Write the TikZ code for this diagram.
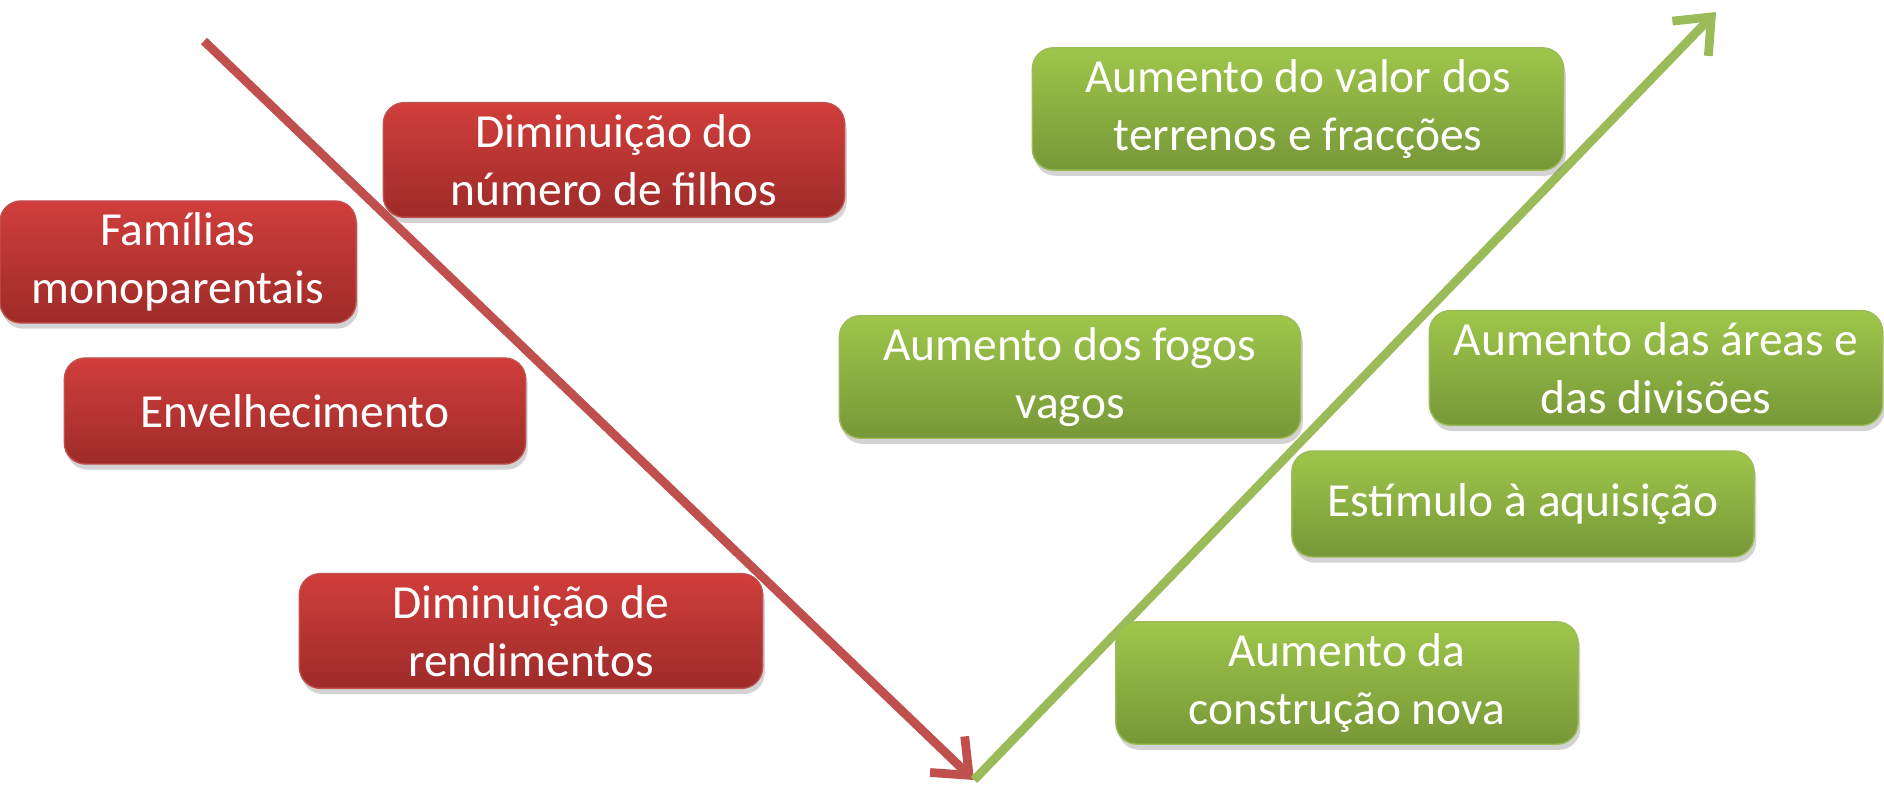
\documentclass[tikz,border=0pt]{standalone}
\usepackage{fontspec}
\setmainfont{Carlito}
\usetikzlibrary{arrows.meta,shadows}
\definecolor{boxred}{RGB}{208,62,59}
\definecolor{boxreddark}{RGB}{158,43,41}
\definecolor{boxgreen}{RGB}{159,198,75}
\definecolor{boxgreendark}{RGB}{119,151,55}
\definecolor{arrowred}{RGB}{192,80,77}
\definecolor{arrowgreen}{RGB}{155,187,89}
\begin{document}
\begin{tikzpicture}
        [x=0.01cm, y=-0.01cm,
        every node/.style={rounded corners=6pt, minimum height=1.06cm, align=center,
          text=white, font=\fontsize{13.5}{16.5}\selectfont,
          drop shadow={shadow xshift=0.6pt, shadow yshift=-1.6pt, opacity=0.35}},
        redbox/.style={draw=arrowred, thin, top color=boxred, bottom color=boxreddark},
        greenbox/.style={draw=arrowgreen, thin, top color=boxgreen, bottom color=boxgreendark},
        trend/.style={line width=2.5pt, -{Straight Barb[length=3mm, width=5mm, line width=2.5pt]}},
        ]
        \useasboundingbox (0,0) rectangle (1884,785);
        \coordinate (redtop) at (204,41);
        \coordinate (bottom) at (974,780);
        \coordinate (greentop) at (1716,12);
        \draw[trend, arrowred] (redtop) -- (bottom);
        \draw[trend, arrowgreen] (bottom) -- (greentop);
        \node[redbox, minimum width=4.61cm] (filhos) at (614,160) {Diminuição do\\número de filhos};
        \node[redbox, minimum width=3.56cm] (familias) at (178,262) {Famílias\\monoparentais};
        \node[redbox, minimum width=4.61cm] (envelhec) at (295,411) {Envelhecimento};
        \node[redbox, minimum width=4.63cm] (rendim) at (531,631) {Diminuição de\\rendimentos};
        \node[greenbox, minimum width=5.31cm] (valor) at (1298,109) {Aumento do valor dos\\terrenos e fracções};
        \node[greenbox, minimum width=4.61cm] (fogos) at (1070,377) {Aumento dos fogos\\vagos};
        \node[greenbox, minimum width=4.53cm] (areas) at (1656,368) {Aumento das áreas e\\das divisões};
        \node[greenbox, minimum width=4.62cm] (aquisicao) at (1523,504) {Estímulo à aquisição};
        \node[greenbox, minimum width=4.62cm] (construcao) at (1347,683) {Aumento da\\construção nova};
\end{tikzpicture}
\end{document}
